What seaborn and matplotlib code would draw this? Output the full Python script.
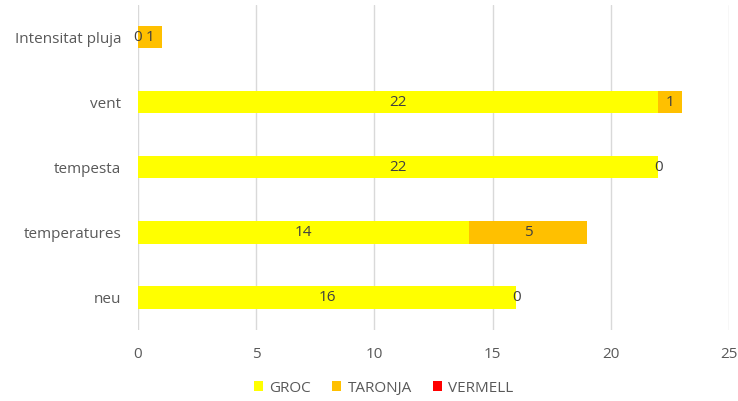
import numpy as np
import pandas as pd
import matplotlib.pyplot as plt
from matplotlib.patches import Patch
import seaborn as sns

# ── Data ──────────────────────────────────────────────────────────────────────
categories = ["Intensitat pluja", "vent", "tempesta", "temperatures", "neu"]
groc = [0, 22, 22, 14, 16]
taronja = [1, 1, 0, 5, 0]
vermell = [0, 0, 0, 0, 0]

series_names = ["GROC", "TARONJA", "VERMELL"]
colors = ["#FFFF00", "#FFC000", "#FF0000"]

df = pd.DataFrame({"cat": categories, "GROC": groc,
                   "TARONJA": taronja, "VERMELL": vermell})
df["c1"] = df["GROC"]
df["c2"] = df["c1"] + df["TARONJA"]
df["c3"] = df["c2"] + df["VERMELL"]

# ── Style ─────────────────────────────────────────────────────────────────────
sns.set_theme(style="white")
plt.rcParams["font.family"] = ["Open Sans", "DejaVu Sans"]
text_col = "#595959"
fs = 11

fig = plt.figure(figsize=(7.38, 4.01), dpi=100)
ax = fig.add_axes([0.187, 0.177, 0.801, 0.811])

# stacked bars: draw cumulative totals from largest to smallest
for col, color in zip(["c3", "c2", "c1"], colors[::-1]):
    sns.barplot(data=df, y="cat", x=col, color=color, orient="h",
                width=0.34, saturation=1, linewidth=0, ax=ax)

# value labels (segment centres)
for i, row in df.iterrows():
    ax.text(row["GROC"] / 2, i, f"{row['GROC']}", ha="center", va="center",
            fontsize=fs, color="#404040")
    ax.text(row["c1"] + row["TARONJA"] / 2, i, f"{row['TARONJA']}",
            ha="center", va="center", fontsize=fs, color="#404040")

ax.set_xlim(0, 25)
ax.set_ylim(len(categories) - 0.5, -0.5)
ax.set_xticks(range(0, 26, 5))
ax.grid(axis="x", color="#d9d9d9", linewidth=1)
ax.set_axisbelow(True)
for s in ax.spines.values():
    s.set_visible(False)
ax.set_xlabel("")
ax.set_ylabel("")
ax.tick_params(axis="y", length=0, pad=12, labelsize=fs, labelcolor=text_col)
ax.tick_params(axis="x", length=0, pad=12, labelsize=fs, labelcolor=text_col)

handles = [Patch(facecolor=c, edgecolor="none") for c in colors]
fig.legend(handles, series_names, loc="center", bbox_to_anchor=(0.52, 0.032),
           ncol=3, frameon=False, fontsize=fs, labelcolor=text_col,
           handlelength=0.6, handleheight=0.6, handletextpad=0.4,
           columnspacing=1.4)

fig.savefig("out.png", dpi=100)
